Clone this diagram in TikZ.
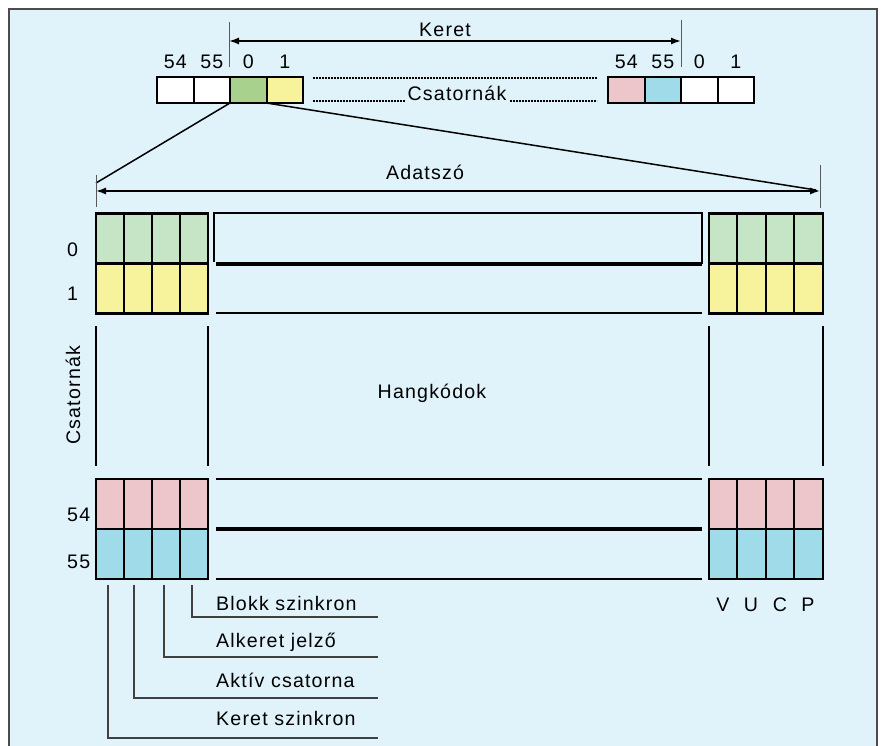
\documentclass[tikz,border=0pt]{standalone}
\usepackage{fontspec}
\setmainfont[LetterSpace=6]{Liberation Sans}
\usepackage{xcolor}
\usepackage{tikz}
\usetikzlibrary{arrows.meta, positioning}

\definecolor{paper}{HTML}{E0F3FA}
\definecolor{leaf}{HTML}{A9D18E}
\definecolor{mint}{HTML}{C6E5C6}
\definecolor{straw}{HTML}{F7F39D}
\definecolor{rose}{HTML}{EDC6CC}
\definecolor{sky}{HTML}{A0DBE9}

\begin{document}
\begin{tikzpicture}[
        x=1pt, y=-1pt,
        cell/.style={draw, line width=2pt, minimum width=36.5pt, minimum height=26pt, inner sep=0pt, outer sep=0pt},
        word/.style={draw, line width=2.5pt, minimum height=50pt, inner sep=0pt, outer sep=0pt},
        wall/.style={line width=2.5pt},
        txt/.style={inner sep=0pt, font=\fontsize{19.6}{21}\selectfont},
        span/.style={{Latex[length=10pt,width=7pt]}-{Latex[length=10pt,width=7pt]}, line width=1.5pt},
        tick/.style={line width=1pt, black!65},
        lead/.style={line width=1.2pt, black!75},
        dots/.style={line width=1.2pt, dash pattern=on 2pt off 1pt}
    ]
    \useasboundingbox (0,0) rectangle (882,745);

    % Background panel
    \fill[paper] (9,9) rectangle (877,760);
    \draw[line width=1.5pt, black!70] (9,760) -- (9,9) -- (877,9) -- (877,760);

    % Frame of channels
    \node[cell, fill=white] (a54) at (175.25,90) {};
    \node[cell, fill=white, right=0pt of a54] (a55) {};
    \node[cell, fill=leaf, right=0pt of a55] (a0) {};
    \node[cell, fill=straw, right=0pt of a0] (a1) {};
    \node[cell, fill=rose] (b54) at (626.25,90) {};
    \node[cell, fill=sky, right=0pt of b54] (b55) {};
    \node[cell, fill=white, right=0pt of b55] (b0) {};
    \node[cell, fill=white, right=0pt of b0] (b1) {};

    \node[txt, above=8pt of a54] (na54) {54};
    \node[txt, above=8pt of a55] (na55) {55};
    \node[txt, above=8pt of a0] (na0) {0};
    \node[txt, above=8pt of a1] (na1) {1};
    \node[txt, above=8pt of b54] (nb54) {54};
    \node[txt, above=8pt of b55] (nb55) {55};
    \node[txt, above=8pt of b0] (nb0) {0};
    \node[txt, above=8pt of b1] (nb1) {1};

    % Keret span
    \coordinate (kL) at (229,41);
    \coordinate (kR) at (681,41);
    \draw[tick] (229,22) -- (229,67);
    \draw[tick] (681,20) -- (681,67);
    \draw[span] (kL) -- (kR);
    \node[txt] (keret) at (445,30) {Keret};

    \draw[dots] (313,78) -- (597,78);
    \node[txt, anchor=base] (csat) at (457,100) {Csatornák};
    \draw[dots] (313,101) -- (405,101);
    \draw[dots] (510,101) -- (597,101);

    % Adatszo span
    \coordinate (wL) at (96,191);
    \coordinate (wR) at (820,191);
    \coordinate (fL) at (96,183);
    \coordinate (fR) at (816,190);
    \draw[line width=1.5pt] (a0.south west) -- (fL);
    \draw[line width=1.5pt] (a0.south east) -- (fR);
    \draw[tick] (96,175) -- (96,207);
    \draw[tick] (820,165) -- (820,208);
    \draw[span] (wL) -- (wR);
    \node[txt] (adat) at (425,172) {Adatszó};

    % Data words
    \node[word, minimum width=112pt, fill=mint] (L0) at (152,238.5) {};
    \node[word, minimum width=112pt, fill=straw, below=0pt of L0] (L1) {};
    \node[word, minimum width=112pt, fill=rose] (L54) at (152,504) {};
    \node[word, minimum width=112pt, fill=sky, below=0pt of L54] (L55) {};
    \node[word, minimum width=114pt, fill=mint] (R0) at (766,238.5) {};
    \node[word, minimum width=114pt, fill=straw, below=0pt of R0] (R1) {};
    \node[word, minimum width=114pt, fill=rose] (R54) at (766,504) {};
    \node[word, minimum width=114pt, fill=sky, below=0pt of R54] (R55) {};
    \foreach \x in {124,152,180} {
        \draw[wall] (\x,213.5) -- (\x,313.5);
        \draw[wall] (\x,479) -- (\x,579);
    }
    \foreach \x in {737,766,794} {
        \draw[wall] (\x,213.5) -- (\x,313.5);
        \draw[wall] (\x,479) -- (\x,579);
    }

    % Sample lines
    \draw[line width=1.5pt] (214,262) -- (214,213) -- (702,213) -- (702,264);
    \draw[line width=3.5pt] (216,264) -- (702,264);
    \draw[line width=2pt] (216,313) -- (702,313);
    \draw[line width=2pt] (216,479) -- (702,479);
    \draw[line width=4pt] (216,529) -- (702,529);
    \draw[line width=2pt] (216,579) -- (702,579);
    \foreach \x in {96,208,709,823}
        \draw[line width=2pt] (\x,326) -- (\x,466);

    \node[txt, rotate=90] (csatv) at (73,395) {Csatornák};
    \node[txt] (hang) at (432,393) {Hangkódok};

    \node[txt, anchor=west] (r0) at (67,250) {0};
    \node[txt, anchor=west] (r1) at (67,294) {1};
    \node[txt, anchor=west] (r54) at (67,515) {54};
    \node[txt, anchor=west] (r55) at (67,562) {55};

    \node[txt] (V) at (723,605) {V};
    \node[txt] (U) at (751,605) {U};
    \node[txt] (C) at (780,605) {C};
    \node[txt] (P) at (808,605) {P};

    % Status bits
    \node[txt, anchor=base west] (blokk) at (216,610) {Blokk szinkron};
    \node[txt, anchor=base west] (alker) at (216,647) {Alkeret jelző};
    \node[txt, anchor=base west] (aktiv) at (216,687) {Aktív csatorna};
    \node[txt, anchor=base west] (kersz) at (216,725) {Keret szinkron};
    \coordinate (eB) at (378,617);
    \coordinate (eA) at (378,657);
    \coordinate (eK) at (378,698);
    \coordinate (eS) at (378,738);
    \draw[lead] ([xshift=96pt, yshift=-6pt]L55.south west) |- (eB);
    \draw[lead] ([xshift=68pt, yshift=-6pt]L55.south west) |- (eA);
    \draw[lead] ([xshift=38pt, yshift=-6pt]L55.south west) |- (eK);
    \draw[lead] ([xshift=12pt, yshift=-6pt]L55.south west) |- (eS);

\end{tikzpicture}
\end{document}
